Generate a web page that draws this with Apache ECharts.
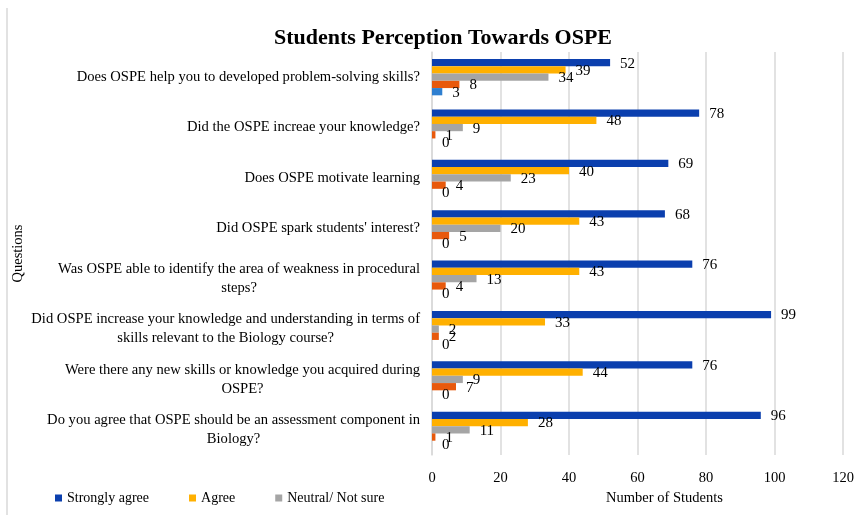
<!DOCTYPE html>
<html>
<head>
<meta charset="utf-8">
<script src="https://cdn.jsdelivr.net/npm/echarts@6/dist/echarts.min.js"></script>
<style>
  html, body { margin: 0; padding: 0; background: #fff; }
  #container { width: 857px; height: 515px; }
</style>
</head>
<body>
<div id="container"></div>
<script>
var questions = [
  'Does OSPE help you to developed problem-solving skills?',
  'Did the OSPE increae your knowledge?',
  'Does OSPE motivate learning',
  "Did OSPE spark students' interest?",
  'Was OSPE able to identify the area of weakness in procedural\nsteps?',
  'Did OSPE increase your knowledge and understanding in terms of\nskills relevant to the Biology course?',
  'Were there any new skills or knowledge you acquired during\nOSPE?',
  'Do you agree that OSPE should be an assessment component in\nBiology?'
];
var stronglyAgree = [52, 78, 69, 68, 76, 99, 76, 96];
var agree = [39, 48, 40, 43, 43, 33, 44, 28];
var neutral = [34, 9, 23, 20, 13, 2, 9, 11];
var disagree = [8, 1, 4, 5, 4, 2, 7, 1];
var stronglyDisagree = [3, 0, 0, 0, 0, 0, 0, 0];
var xTicks = [0, 20, 40, 60, 80, 100, 120];

var serif = '"Liberation Serif", "Times New Roman", serif';
var dom = document.getElementById('container');
var myChart = echarts.init(dom, null, { renderer: 'canvas' });

function bar(name, data, color) {
  return {
    name: name,
    type: 'bar',
    data: data,
    barGap: '0%',
    barCategoryGap: '28%',
    itemStyle: { color: color },
    label: {
      show: true,
      position: 'right',
      distance: 10,
      offset: [0, 1],
      color: '#000',
      fontFamily: serif,
      fontSize: 15
    }
  };
}

var option = {
  animation: false,
  backgroundColor: '#fff',
  title: {
    text: 'Students Perception Towards OSPE',
    left: 438,
    top: 22,
    textAlign: 'center',
    textStyle: {
      fontFamily: serif,
      fontWeight: 'bold',
      fontSize: 22,
      color: '#000'
    }
  },
  legend: {
    data: ['Strongly agree', 'Agree', 'Neutral/ Not sure'],
    left: 50,
    top: 486,
    icon: 'rect',
    itemWidth: 7,
    itemHeight: 7,
    itemGap: 40,
    textStyle: { fontFamily: serif, fontSize: 14, color: '#000' }
  },
  grid: { left: 432, right: 14, top: 52, bottom: 60 },
  xAxis: {
    type: 'value',
    min: xTicks[0],
    max: xTicks[xTicks.length - 1],
    interval: 20,
    name: 'Number of Students',
    nameLocation: 'middle',
    nameGap: 34,
    nameTextStyle: { fontFamily: serif, fontSize: 14.5, color: '#000', padding: [0, 0, 0, 54] },
    axisLine: { show: false },
    axisTick: { show: false },
    axisLabel: { fontFamily: serif, fontSize: 14.5, color: '#000', margin: 16 },
    splitLine: { lineStyle: { color: '#d9d9d9', width: 1.5 } }
  },
  yAxis: {
    type: 'category',
    inverse: true,
    data: questions,
    name: 'Questions',
    nameLocation: 'middle',
    nameGap: 406,
    nameTextStyle: { fontFamily: serif, fontSize: 14.5, color: '#000' },
    axisLine: { lineStyle: { color: '#d9d9d9', width: 1.5 } },
    axisTick: { show: false },
    axisLabel: {
      margin: 12,
      align: 'right',
      formatter: function (v) {
        return v.split('\n').map(function (s) { return '{c|' + s + '}'; }).join('\n');
      },
      rich: {
        c: { align: 'center', fontFamily: serif, fontSize: 14.6, color: '#000', lineHeight: 19 }
      }
    }
  },
  graphic: [{
    type: 'line',
    shape: { x1: 7, y1: 8, x2: 7, y2: 515 },
    style: { stroke: '#d9d9d9', lineWidth: 1.5 }
  }],
  series: [
    bar('Strongly agree', stronglyAgree, '#0b3fae'),
    bar('Agree', agree, '#ffb000'),
    bar('Neutral/ Not sure', neutral, '#a5a5a5'),
    bar('Disagree', disagree, '#e8590c'),
    bar('Strongly disagree', stronglyDisagree, '#2e7fd0')
  ]
};

myChart.setOption(option);
window.addEventListener('resize', myChart.resize);
</script>
</body>
</html>
